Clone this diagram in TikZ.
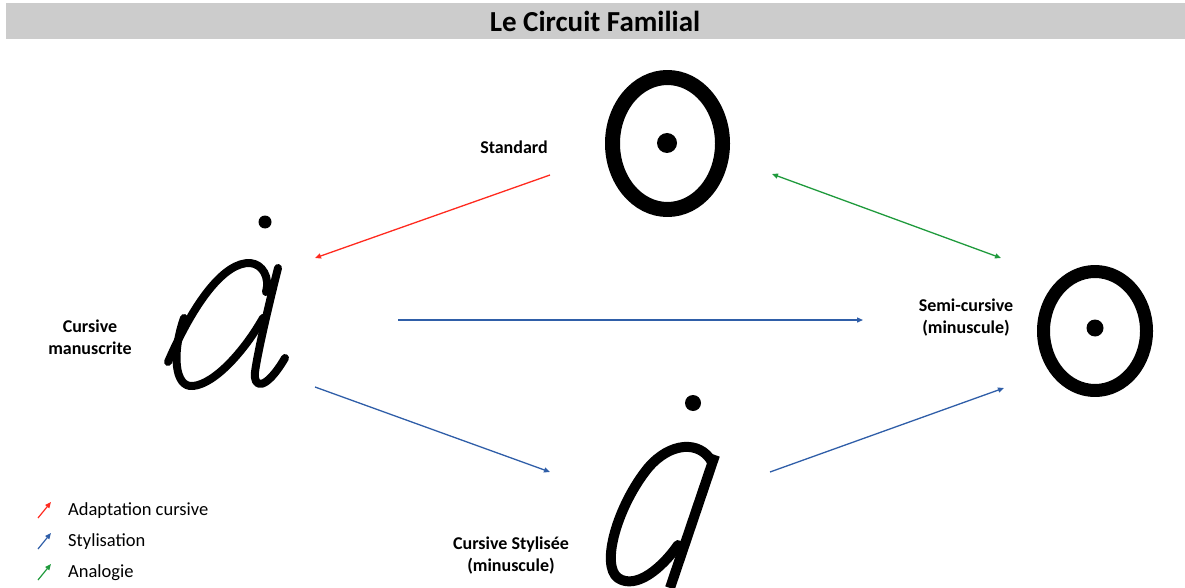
\documentclass[tikz,border=0pt]{standalone}
\usepackage{fontspec}
\setmainfont{Carlito}
\usetikzlibrary{arrows.meta}
\definecolor{titlegray}{HTML}{CCCCCC}
\definecolor{adaptred}{HTML}{FF2A1F}
\definecolor{stylblue}{HTML}{2F5EA8}
\definecolor{analgreen}{HTML}{1F9A3C}

\begin{document}
\begin{tikzpicture}[x=1pt, y=-1pt, >={Triangle[length=6pt,width=5pt]},
  link/.style={line width=1.3pt},
  lbl/.style={font=\fontsize{18}{22}\selectfont\bfseries, align=center, inner sep=0pt},
  pen/.style={black, line cap=round, line join=round}]

  % Canvas
  \useasboundingbox (0,0) rectangle (1185,588);

  % Title bar
  \fill[titlegray] (6,3) rectangle (1185,39);
  \node[font=\fontsize{29}{33}\selectfont\bfseries] (title) at (595,21) {Le Circuit Familial};

  % ==================== GLYPHS ====================
  % 1. Standard (top)
  \draw[pen, line width=15pt] (667.5,143.5) ellipse (55 and 66);
  \fill (667,143) circle (10);
  \node[lbl] (std) at (514,147) {Standard};

  % 2. Cursive manuscrite (left)
  \fill (265,222) circle (6.5);
  \draw[pen, line width=8pt]
    (168,362) .. controls (195,300) and (225,262) .. (250,263)
    .. controls (263,264) and (270,278) .. (266,292);
  \draw[pen, line width=8pt]
    (184,318) .. controls (172,352) and (174,388) .. (193,386)
    .. controls (215,384) and (245,350) .. (263,318);
  \draw[pen, line width=8pt]
    (278,268) .. controls (270,300) and (258,350) .. (255,372)
    .. controls (253,388) and (265,392) .. (285,358);
  \node[lbl] (man) at (90,337) {Cursive\\manuscrite};

  % 3. Semi-cursive (right)
  \draw[pen, line width=13pt] (1095,331) ellipse (51.5 and 59.5);
  \fill (1095,328) circle (8.5);
  \node[lbl] (semi) at (966,318) {Semi-cursive\\(minuscule)};

  % 4. Cursive stylisee (bottom)
  \fill (693,403) circle (8);
  \draw[pen, line width=10pt]
    (712,462) .. controls (700,440) and (670,442) .. (648,468)
    .. controls (618,505) and (600,565) .. (618,578)
    .. controls (636,590) and (662,568) .. (678,545);
  \draw[pen, line width=10pt, line cap=butt] (715,455) -- (670,588);
  \node[lbl] (sty) at (511,556) {Cursive Stylisée\\(minuscule)};

  % ==================== LINKS ====================
  \coordinate (std-out) at (550,175);
  \coordinate (man-in) at (315,258);
  \coordinate (std-east) at (772,174);
  \coordinate (semi-nw) at (1001,258);
  \coordinate (man-east) at (398,320);
  \coordinate (semi-west) at (863,320);
  \coordinate (man-se) at (315,387);
  \coordinate (sty-west) at (550,472);
  \coordinate (sty-east) at (770,472);
  \coordinate (semi-sw) at (1004,388);

  \draw[link, adaptred, ->] (std-out) -- (man-in);
  \draw[link, analgreen, <->] (std-east) -- (semi-nw);
  \draw[link, stylblue, ->] (man-east) -- (semi-west);
  \draw[link, stylblue, ->] (man-se) -- (sty-west);
  \draw[link, stylblue, ->] (sty-east) -- (semi-sw);

  % ==================== LEGEND ====================
  \foreach \yy/\c/\t [count=\i] in {511/adaptred/Adaptation cursive, 542/stylblue/Stylisation, 573/analgreen/Analogie} {
    \coordinate (leg\i-a) at (38,\yy+7);
    \coordinate (leg\i-b) at (51,\yy-9);
    \draw[\c, line width=1.2pt, ->] (leg\i-a) -- (leg\i-b);
    \node[anchor=west, inner sep=0pt, font=\fontsize{18.5}{22}\selectfont] (leg\i) at (68,\yy) {\t};
  }

\end{tikzpicture}
\end{document}
